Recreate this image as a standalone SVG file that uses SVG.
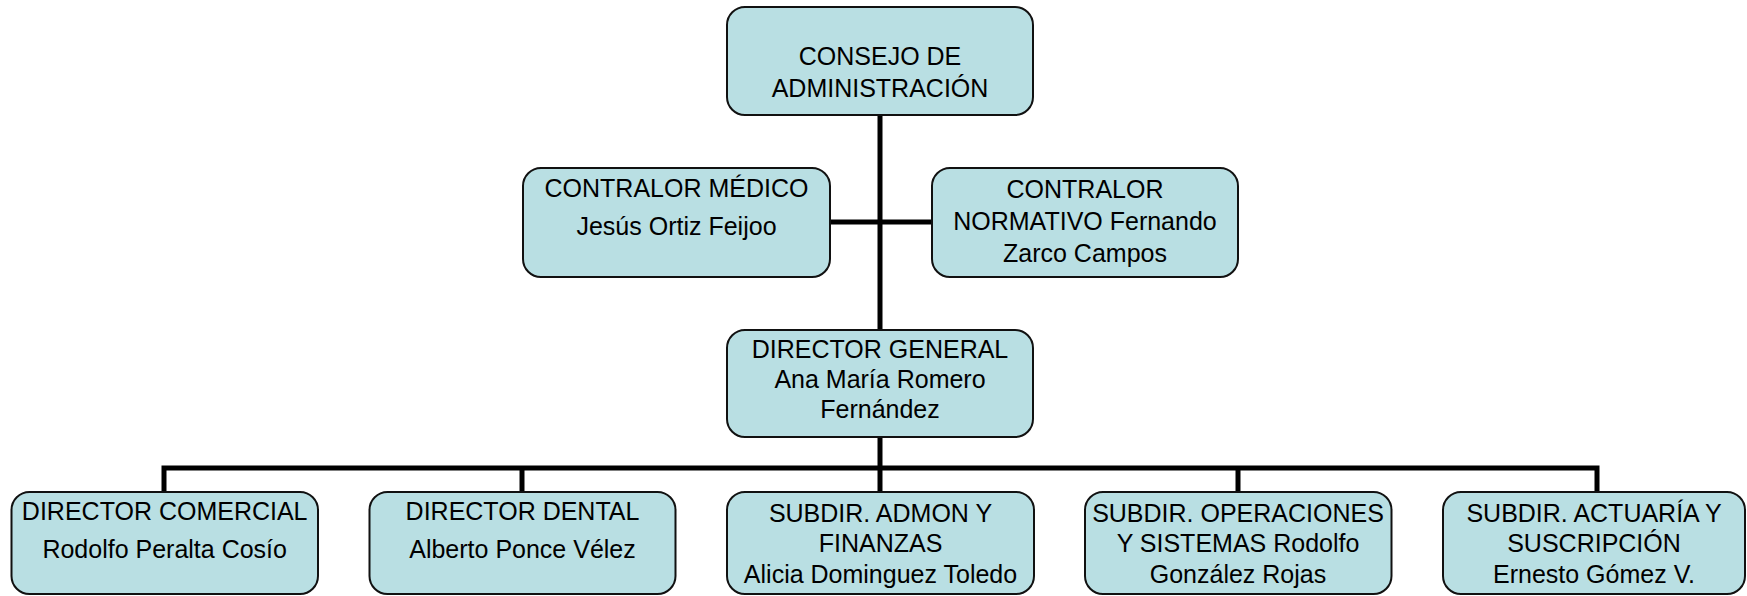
<svg xmlns="http://www.w3.org/2000/svg" width="1747" height="596" viewBox="0 0 1747 596">
<style>
.box{fill:#B9DFE3;stroke:#111;stroke-width:2}
.t{font-family:"Liberation Sans",Arial,sans-serif;font-size:25px;fill:#000;text-anchor:middle}
.c{stroke:#000;stroke-width:5;fill:none}
</style>
<rect width="1747" height="596" fill="#fff"/>
<g id="connectors">
<line class="c" x1="880" y1="114" x2="880" y2="331"/>
<line class="c" x1="829" y1="222" x2="933" y2="222"/>
<line class="c" x1="880" y1="436" x2="880" y2="468"/>
<polyline class="c" points="164,493 164,468 1597,468 1597,493"/>
<line class="c" x1="522" y1="468" x2="522" y2="493"/>
<line class="c" x1="880" y1="468" x2="880" y2="493"/>
<line class="c" x1="1238" y1="468" x2="1238" y2="493"/>
</g>
<g id="consejo">
<rect class="box" x="727" y="7" width="306" height="108" rx="18"/>
<text class="t" x="880" y="65">CONSEJO DE</text>
<text class="t" x="880" y="97">ADMINISTRACIÓN</text>
</g>
<g id="contralor-medico">
<rect class="box" x="523" y="168" width="307" height="109" rx="18"/>
<text class="t" x="676.5" y="197">CONTRALOR MÉDICO</text>
<text class="t" x="676.5" y="235">Jesús Ortiz Feijoo</text>
</g>
<g id="contralor-normativo">
<rect class="box" x="932" y="168" width="306" height="109" rx="18"/>
<text class="t" x="1085" y="198">CONTRALOR</text>
<text class="t" x="1085" y="230">NORMATIVO Fernando</text>
<text class="t" x="1085" y="262">Zarco Campos</text>
</g>
<g id="director-general">
<rect class="box" x="727" y="330" width="306" height="107" rx="18"/>
<text class="t" x="880" y="358">DIRECTOR GENERAL</text>
<text class="t" x="880" y="388">Ana María Romero</text>
<text class="t" x="880" y="418">Fernández</text>
</g>
<g id="director-comercial">
<rect class="box" x="11.5" y="492" width="306.5" height="102" rx="18"/>
<text class="t" x="164.7" y="520">DIRECTOR COMERCIAL</text>
<text class="t" x="164.7" y="558">Rodolfo Peralta Cosío</text>
</g>
<g id="director-dental">
<rect class="box" x="369.5" y="492" width="306" height="102" rx="18"/>
<text class="t" x="522.5" y="520">DIRECTOR DENTAL</text>
<text class="t" x="522.5" y="558">Alberto Ponce Vélez</text>
</g>
<g id="subdir-admon">
<rect class="box" x="727" y="492" width="307" height="102" rx="18"/>
<text class="t" x="880.5" y="522">SUBDIR. ADMON Y</text>
<text class="t" x="880.5" y="552">FINANZAS</text>
<text class="t" x="880.5" y="583">Alicia Dominguez Toledo</text>
</g>
<g id="subdir-operaciones">
<rect class="box" x="1085" y="492" width="306.5" height="102" rx="18"/>
<text class="t" x="1238" y="522">SUBDIR. OPERACIONES</text>
<text class="t" x="1238" y="552">Y SISTEMAS Rodolfo</text>
<text class="t" x="1238" y="583">González Rojas</text>
</g>
<g id="subdir-actuaria">
<rect class="box" x="1443" y="492" width="302" height="102" rx="18"/>
<text class="t" x="1594" y="522">SUBDIR. ACTUARÍA Y</text>
<text class="t" x="1594" y="552">SUSCRIPCIÓN</text>
<text class="t" x="1594" y="583">Ernesto Gómez V.</text>
</g>
</svg>
